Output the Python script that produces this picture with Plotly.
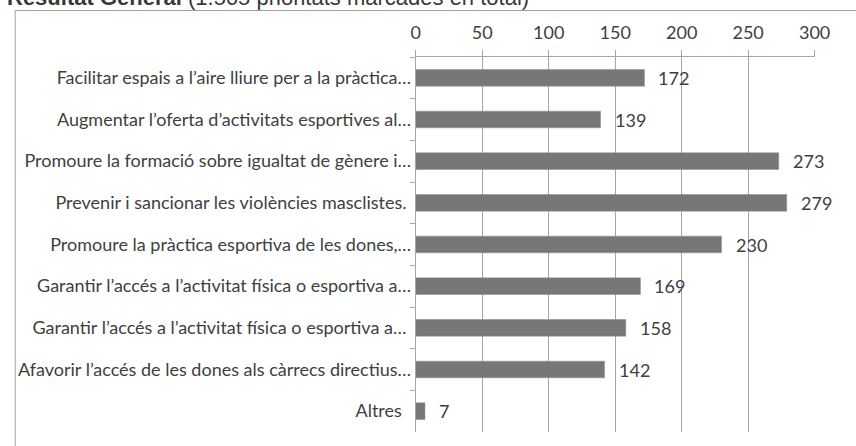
import plotly.graph_objects as go

# Priorities and number of times each one was marked
categories = [
    "Facilitar espais a l\u2019aire lliure per a la pràctica\u2026",
    "Augmentar l\u2019oferta d\u2019activitats esportives al\u2026",
    "Promoure la formació sobre igualtat de gènere i\u2026",
    "Prevenir i sancionar les violències masclistes. ",
    "Promoure la pràctica esportiva de les dones,\u2026",
    "Garantir l\u2019accés a l\u2019activitat física o esportiva a\u2026",
    "Garantir l\u2019accés a l\u2019activitat física o esportiva a\u2026 ",
    "Afavorir l\u2019accés de les dones als càrrecs directius\u2026",
    "Altres  ",
]
values = [172, 139, 273, 279, 230, 169, 158, 142, 7]
x_ticks = [0, 50, 100, 150, 200, 250, 300]

W, H = 856, 446
FONT = "Lato"
FS = 18
TXT = "#404040"
GRID = "#a6a6a6"

fig = go.Figure(
    go.Bar(
        x=values,
        y=categories,
        orientation="h",
        width=0.4,
        marker=dict(color="#777777", line=dict(color="#8c8c8c", width=0.5)),
        hoverinfo="x+y",
    )
)

# value labels just past each bar end
for c, v in zip(categories, values):
    fig.add_annotation(
        x=v, y=c, xref="x", yref="y", text=str(v), showarrow=False,
        xanchor="left", xshift=12, font=dict(family=FONT, size=FS, color=TXT),
    )

# chart title, partly above the page edge
fig.add_annotation(
    x=0, y=1 - 12 / H, xref="paper", yref="paper", xanchor="left", yanchor="bottom",
    text="<b>Resultat General</b> (1.565 prioritats marcades en total)",
    showarrow=False, font=dict(family="Liberation Sans", size=22, color="#383838"),
)

# outer chart frame
fig.add_shape(
    type="rect", xref="paper", yref="paper",
    x0=10.5 / W, x1=1.05, y0=-0.05, y1=1 - 10.5 / H,
    line=dict(color="#a0a0a0", width=1), fillcolor="rgba(0,0,0,0)",
)

fig.update_layout(
    width=W, height=H,
    margin=dict(l=0, r=0, t=0, b=0),
    paper_bgcolor="white", plot_bgcolor="white",
    showlegend=False,
    xaxis=dict(
        domain=[421 / W, 830 / W], range=[0, 300], side="top",
        tickvals=x_ticks, ticktext=[str(t) for t in x_ticks],
        showgrid=True, gridcolor=GRID, gridwidth=1,
        showline=True, linecolor=GRID, linewidth=1,
        ticks="outside", ticklen=6, tickcolor=GRID, ticklabelstandoff=4,
        zeroline=False, fixedrange=True,
        tickfont=dict(family=FONT, size=FS, color=TXT),
    ),
    yaxis=dict(
        domain=[1 - 432 / H, 1 - 57 / H], autorange="reversed",
        type="category",
        showline=True, linecolor=GRID, linewidth=1,
        ticks="outside", ticklen=5, tickcolor=GRID, tickson="boundaries",
        showgrid=False, fixedrange=True,
        tickfont=dict(family=FONT, size=FS, color=TXT),
    ),
)

fig.write_html("out.html")
